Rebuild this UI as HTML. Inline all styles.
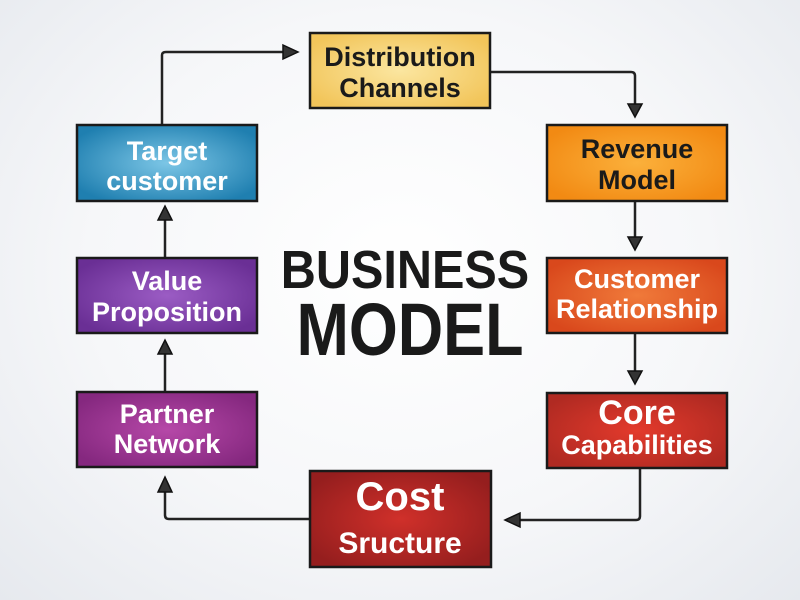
<!DOCTYPE html>
<html><head><style>
html,body{margin:0;padding:0;width:800px;height:600px;overflow:hidden}
body{background:radial-gradient(ellipse at 50% 45%,#ffffff 0%,#f6f7f9 55%,#e6e9ee 100%)}
svg{position:absolute;left:0;top:0}
text{font-family:"Liberation Sans Narrow","Liberation Sans",sans-serif;font-weight:bold;text-anchor:middle}
</style></head><body>
<svg width="800" height="600" viewBox="0 0 800 600">
<defs>
<radialGradient id="gy" cx="50%" cy="50%" r="60%"><stop offset="0" stop-color="#fbe6a0"/><stop offset="1" stop-color="#f2c55a"/></radialGradient>
<radialGradient id="gb" cx="50%" cy="50%" r="60%"><stop offset="0" stop-color="#7cc6e6"/><stop offset="1" stop-color="#1f7fb0"/></radialGradient>
<radialGradient id="go" cx="50%" cy="50%" r="60%"><stop offset="0" stop-color="#fbb03b"/><stop offset="1" stop-color="#f28a13"/></radialGradient>
<radialGradient id="gr" cx="50%" cy="50%" r="60%"><stop offset="0" stop-color="#f07a3a"/><stop offset="1" stop-color="#d9481c"/></radialGradient>
<radialGradient id="gc" cx="50%" cy="50%" r="60%"><stop offset="0" stop-color="#e33a2c"/><stop offset="1" stop-color="#b02a22"/></radialGradient>
<radialGradient id="gd" cx="50%" cy="50%" r="60%"><stop offset="0" stop-color="#d0302a"/><stop offset="1" stop-color="#951e1e"/></radialGradient>
<radialGradient id="gp" cx="50%" cy="50%" r="60%"><stop offset="0" stop-color="#9b5cc4"/><stop offset="1" stop-color="#6a2f95"/></radialGradient>
<radialGradient id="gm" cx="50%" cy="50%" r="60%"><stop offset="0" stop-color="#b648a8"/><stop offset="1" stop-color="#85287f"/></radialGradient>
</defs>
<g fill="none" stroke="#222" stroke-width="2.5" stroke-linejoin="round">
<path d="M162 125 V55 Q162 52 166 52 H285"/>
<path d="M490 72 H631 Q635 72 635 76 V104"/>
<path d="M635 201 V238"/>
<path d="M635 333 V372"/>
<path d="M640 468 V516 Q640 520 636 520 H520"/>
<path d="M310 519 H169 Q165 519 165 515 V490"/>
<path d="M165 392 V352"/>
<path d="M165 258 V219"/>
</g>
<g fill="#333" stroke="#111" stroke-width="1.5">
<polygon points="283,45 298,52 283,59"/>
<polygon points="628,104 642,104 635,117"/>
<polygon points="628,237 642,237 635,250"/>
<polygon points="628,371 642,371 635,384"/>
<polygon points="520,513 520,527 505,520"/>
<polygon points="158,492 172,492 165,477"/>
<polygon points="158,354 172,354 165,340"/>
<polygon points="158,220 172,220 165,206"/>
</g>
<g stroke="#1a1a1a" stroke-width="2.5">
<rect x="310" y="33" width="180" height="75" fill="url(#gy)"/>
<rect x="77" y="125" width="180" height="76" fill="url(#gb)"/>
<rect x="547" y="125" width="180" height="76" fill="url(#go)"/>
<rect x="77" y="258" width="180" height="75" fill="url(#gp)"/>
<rect x="547" y="258" width="180" height="75" fill="url(#gr)"/>
<rect x="77" y="392" width="180" height="75" fill="url(#gm)"/>
<rect x="547" y="393" width="180" height="75" fill="url(#gc)"/>
<rect x="310" y="471" width="181" height="96" fill="url(#gd)"/>
</g>
<g font-size="27" fill="#1a1a1a">
<text x="400" y="66">Distribution</text>
<text x="400" y="97">Channels</text>
<text x="637" y="158">Revenue</text>
<text x="637" y="189">Model</text>
</g>
<g font-size="27" fill="#fff">
<text x="167" y="160">Target</text>
<text x="167" y="190">customer</text>
<text x="167" y="290">Value</text>
<text x="167" y="321">Proposition</text>
<text x="637" y="288">Customer</text>
<text x="637" y="318">Relationship</text>
<text x="167" y="423">Partner</text>
<text x="167" y="453">Network</text>
<text x="637" y="424" font-size="34">Core</text>
<text x="637" y="454">Capabilities</text>
<text x="400" y="510" font-size="40">Cost</text>
<text x="400" y="553" font-size="30">Sructure</text>
</g>
<g fill="#1a1a1a">
<text x="405" y="288" font-size="54" transform="translate(405 0) scale(0.9 1) translate(-405 0)">BUSINESS</text>
<text x="410" y="355" font-size="74" transform="translate(410 0) scale(0.85 1) translate(-410 0)">MODEL</text>
</g>
</svg>
</body></html>
